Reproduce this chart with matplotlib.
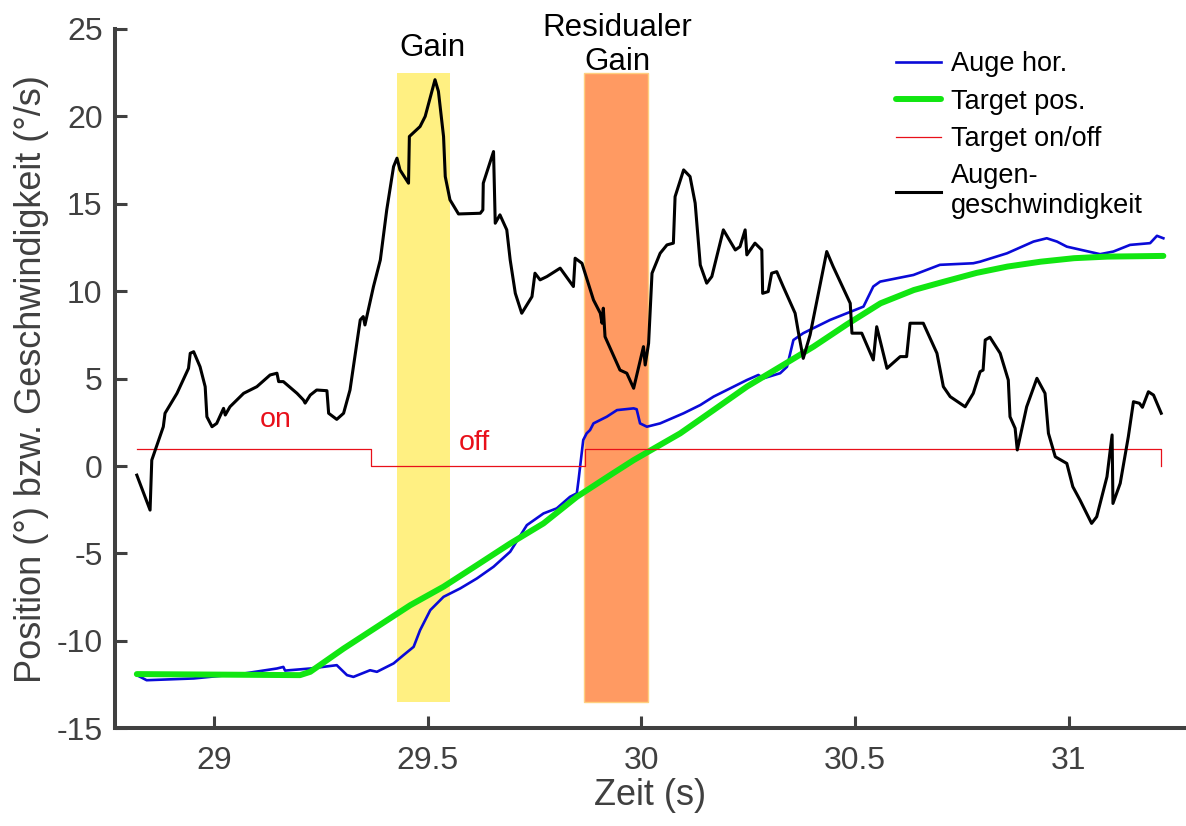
import matplotlib
matplotlib.use("Agg")
import matplotlib.pyplot as plt

plt.rcParams['font.family'] = ['Liberation Sans', 'DejaVu Sans']
plt.rcParams['axes.unicode_minus'] = False

# Augenposition horizontal (°)
t_eye = [28.819, 28.842, 28.952, 29.069, 29.147, 29.162, 29.166, 29.225, 29.287, 29.311,
         29.326, 29.365, 29.381, 29.420, 29.443, 29.467, 29.482, 29.506, 29.537, 29.576,
         29.615, 29.654, 29.693, 29.732, 29.771, 29.802, 29.833, 29.849, 29.853, 29.864,
         29.872, 29.880, 29.888, 29.919, 29.943, 29.982, 29.989, 29.997, 30.013, 30.044,
         30.099, 30.138, 30.169, 30.247, 30.274, 30.286, 30.325, 30.341, 30.356, 30.379,
         30.442, 30.520, 30.543, 30.559, 30.637, 30.699, 30.777, 30.793, 30.856, 30.918,
         30.949, 30.973, 30.996, 31.074, 31.105, 31.144, 31.191, 31.207, 31.222]
eye_pos = [-11.96, -12.25, -12.15, -11.87, -11.58, -11.49, -11.70, -11.58, -11.39, -11.96,
           -12.06, -11.68, -11.77, -11.29, -10.82, -10.34, -9.39, -8.24, -7.48, -7.00,
           -6.43, -5.76, -4.90, -3.38, -2.71, -2.42, -1.76, -1.56, -0.80, 1.49,
           1.87, 2.06, 2.44, 2.82, 3.20, 3.30, 3.25, 2.44, 2.25, 2.44,
           3.02, 3.49, 3.97, 4.92, 5.21, 5.02, 5.31, 5.68, 7.21, 7.60,
           8.36, 9.12, 10.27, 10.55, 10.93, 11.51, 11.60, 11.69, 12.17, 12.84,
           13.03, 12.84, 12.55, 12.12, 12.27, 12.65, 12.75, 13.17, 13.03]

# Zielposition (°)
t_target = [28.819, 29.201, 29.225, 29.303, 29.381, 29.459, 29.537, 29.615, 29.693, 29.771,
            29.849, 29.927, 29.982, 30.091, 30.169, 30.247, 30.325, 30.403, 30.481, 30.560,
            30.638, 30.709, 30.785, 30.857, 30.935, 31.013, 31.091, 31.222]
target_pos = [-11.90, -11.96, -11.77, -10.44, -9.20, -7.96, -6.90, -5.67, -4.43, -3.28,
              -1.76, -0.52, 0.34, 1.87, 3.20, 4.54, 5.68, 6.83, 8.10, 9.31,
              10.07, 10.55, 11.05, 11.41, 11.69, 11.89, 11.98, 12.02]

# Ziel an/aus
t_onoff = [28.819, 29.368, 29.368, 29.868, 29.868, 31.217, 31.217]
onoff = [1, 1, 0, 0, 1, 1, 0]

# Augengeschwindigkeit (°/s)
t_vel = [28.819, 28.850, 28.854, 28.881, 28.885, 28.913, 28.940, 28.944, 28.952, 28.967,
         28.979, 28.983, 28.995, 29.006, 29.022, 29.026, 29.037, 29.069, 29.100, 29.131,
         29.147, 29.151, 29.162, 29.194, 29.209, 29.213, 29.225, 29.240, 29.264, 29.268,
         29.287, 29.303, 29.318, 29.334, 29.342, 29.349, 29.353, 29.373, 29.389, 29.404,
         29.420, 29.428, 29.435, 29.455, 29.457, 29.482, 29.494, 29.517, 29.525, 29.537,
         29.541, 29.552, 29.572, 29.623, 29.629, 29.630, 29.654, 29.658, 29.669, 29.685,
         29.693, 29.705, 29.720, 29.744, 29.751, 29.763, 29.779, 29.810, 29.841, 29.845,
         29.861, 29.888, 29.904, 29.908, 29.911, 29.915, 29.950, 29.966, 29.982, 30.005,
         30.009, 30.017, 30.025, 30.044, 30.060, 30.075, 30.079, 30.099, 30.114, 30.126,
         30.138, 30.153, 30.165, 30.192, 30.220, 30.231, 30.243, 30.247, 30.266, 30.282,
         30.284, 30.297, 30.305, 30.317, 30.332, 30.360, 30.368, 30.379, 30.395, 30.434,
         30.449, 30.489, 30.493, 30.516, 30.543, 30.551, 30.575, 30.606, 30.621, 30.629,
         30.660, 30.692, 30.707, 30.723, 30.758, 30.777, 30.793, 30.800, 30.805, 30.816,
         30.840, 30.859, 30.863, 30.875, 30.880, 30.902, 30.926, 30.945, 30.953, 30.969,
         30.996, 31.010, 31.027, 31.054, 31.066, 31.090, 31.102, 31.104, 31.121, 31.140,
         31.152, 31.166, 31.173, 31.187, 31.199, 31.217]
eye_vel = [-0.52, -2.52, 0.34, 2.25, 3.02, 4.16, 5.59, 6.45, 6.54, 5.68,
           4.54, 2.82, 2.25, 2.44, 3.30, 2.92, 3.39, 4.16, 4.54, 5.21,
           5.31, 4.83, 4.83, 4.16, 3.78, 3.60, 4.06, 4.35, 4.31, 3.02,
           2.67, 3.02, 4.35, 7.02, 8.36, 8.55, 8.07, 10.27, 11.79, 14.65,
           17.13, 17.61, 16.94, 16.18, 18.85, 19.42, 20.00, 22.10, 21.43, 18.85,
           16.56, 15.23, 14.42, 14.46, 14.65, 16.18, 17.99, 13.89, 14.37, 13.51,
           11.79, 9.88, 8.74, 9.69, 11.03, 10.65, 10.84, 11.32, 10.27, 11.89,
           11.60, 9.50, 8.74, 8.17, 9.03, 7.40, 5.49, 5.31, 4.45, 6.83,
           5.78, 7.02, 11.03, 12.17, 12.65, 12.75, 15.41, 16.94, 16.56, 15.04,
           11.50, 10.46, 10.84, 13.51, 12.36, 12.55, 13.51, 12.08, 12.75, 12.36,
           9.88, 9.98, 11.03, 11.12, 10.27, 8.74, 7.60, 6.16, 7.50, 12.27,
           11.41, 9.31, 7.60, 7.60, 6.07, 7.97, 5.59, 6.26, 6.26, 8.17,
           8.17, 6.45, 4.54, 3.97, 3.39, 4.16, 5.40, 5.49, 7.21, 7.37,
           6.45, 4.92, 2.82, 2.16, 0.92, 3.39, 5.02, 4.16, 1.87, 0.53,
           0.15, -1.18, -1.95, -3.28, -2.90, -0.61, 1.78, -2.14, -0.99, 1.68,
           3.68, 3.59, 3.36, 4.25, 4.06, 3.02]

# Zeitfenster fuer Gain und residualen Gain
gain_window = (29.429, 29.552)
resid_window = (29.866, 30.015)
window_y = (-13.5, 22.5)

fig = plt.figure(figsize=(11.86, 8.26), dpi=100)
ax = fig.add_axes([0.097, 0.1183, 0.903, 0.8466])

ax.axvspan(*gain_window, ymin=(window_y[0] + 15) / 40, ymax=(window_y[1] + 15) / 40,
           facecolor='#fff082', edgecolor='none', zorder=1)
ax.axvspan(*resid_window, ymin=(window_y[0] + 15) / 40, ymax=(window_y[1] + 15) / 40,
           facecolor='#ff9a62', edgecolor='#ffd080', linewidth=1.0, zorder=1)

ax.plot(t_eye, eye_pos, color='#0a0ad8', lw=1.9, zorder=2, label='Auge hor.')
ax.plot(t_target, target_pos, color='#11e611', lw=4.3, zorder=3, label='Target pos.',
        solid_capstyle='round')
ax.plot(t_onoff, onoff, color='#e8101a', lw=0.9, zorder=3.5, label='Target on/off')
ax.plot(t_vel, eye_vel, color='black', lw=2.2, zorder=4, label='Augen-\ngeschwindigkeit')

ax.text(29.144, 2.64, 'on', color='#e8101a', fontsize=20.5, ha='center', va='center')
ax.text(29.609, 1.3, 'off', color='#e8101a', fontsize=20.5, ha='center', va='center')
ax.text(29.51, 23.9, 'Gain', fontsize=22.5, ha='center', va='center', clip_on=False)
ax.text(29.943, 24.1, 'Residualer\nGain', fontsize=22.5, ha='center', va='center',
        linespacing=1.18, clip_on=False)

ax.set_xlim(28.768, 31.275)
ax.set_ylim(-15, 25)
ax.set_xticks([29, 29.5, 30, 30.5, 31])
ax.set_xticklabels(['29', '29.5', '30', '30.5', '31'])
ax.set_yticks(range(-15, 26, 5))

grey = '#404040'
for side in ('top', 'right'):
    ax.spines[side].set_visible(False)
for side in ('left', 'bottom'):
    ax.spines[side].set_color(grey)
    ax.spines[side].set_linewidth(2.9)
ax.tick_params(axis='both', direction='in', length=8.5, width=2.2, color=grey,
               labelcolor=grey, labelsize=23)
ax.tick_params(axis='x', pad=13)
ax.tick_params(axis='y', pad=9)

ax.set_xlabel('Zeit (s)', fontsize=26, color=grey, labelpad=1)
ax.set_ylabel('Position (°) bzw. Geschwindigkeit (°/s)', fontsize=26, color=grey,
              labelpad=5)

ax.legend(loc='upper left', bbox_to_anchor=(0.706, 1.003), frameon=False,
          fontsize=19.5, handlelength=1.67, handletextpad=0.37, labelspacing=0.42,
          borderpad=0.4)

fig.savefig('out.png', dpi=100)
